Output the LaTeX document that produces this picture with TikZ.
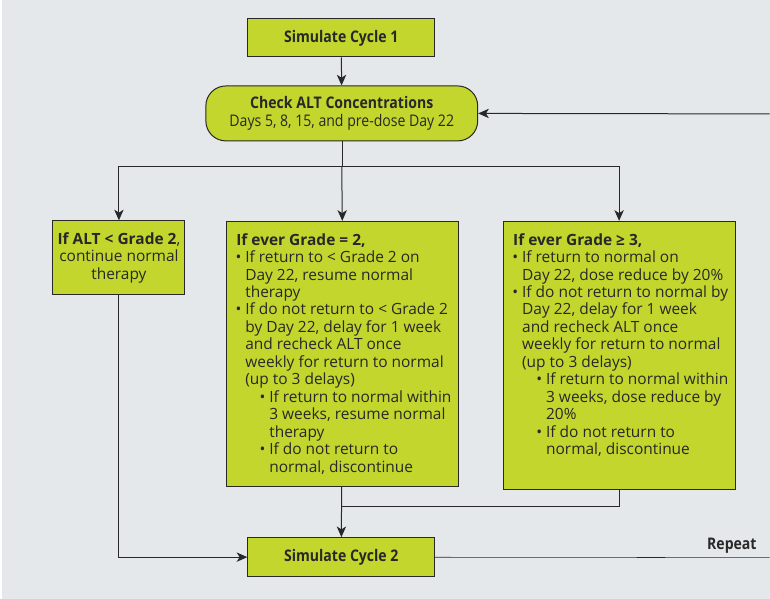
\documentclass[tikz,border=0pt]{standalone}
\usepackage{fontspec}
\setmainfont{Open Sans}
\newfontfamily\headfont[FakeStretch=0.88]{Open Sans}
\usepackage{enumitem}
\usetikzlibrary{arrows.meta,positioning}

\definecolor{altgreen}{RGB}{194,214,46}
\definecolor{panelgrey}{RGB}{229,232,235}
\definecolor{edgegrey}{RGB}{40,40,40}

\tikzset{
  greenbox/.style={draw=edgegrey, fill=altgreen, line width=0.75pt},
  cyclebox/.style={greenbox, minimum width=140.25pt, minimum height=28.5pt,
    font=\headfont\bfseries\fontsize{12}{13}\selectfont},
  checkbox/.style={greenbox, rounded corners=15pt, minimum width=204pt, minimum height=41.25pt,
    align=center, font=\headfont\fontsize{12}{13.5}\selectfont},
  rulebox/.style={greenbox, anchor=north west, inner xsep=7.5pt, inner ysep=9pt,
    font=\fontsize{11.6}{13.1}\selectfont},
  flow/.style={-{Stealth[length=8pt,width=7pt,inset=2.2pt]}, line width=0.75pt},
}

\setlist[itemize]{label=\textbullet, itemsep=0pt, topsep=0pt, parsep=0pt, partopsep=0pt, labelsep=3pt}

\begin{document}
\begin{tikzpicture}[x=0.75pt, y=-0.75pt, color=edgegrey]
    % background panel
    \fill[panelgrey] (0,0) rectangle (770,599);
    \fill[white] (0,0) rectangle (2,599);

    \node[cyclebox] (cycleA) at (341.5,38) {Simulate Cycle 1};
    \node[checkbox] (check) at (342,113.5) {\textbf{Check ALT Concentrations}\\Days 5, 8, 15, and pre-dose Day 22};

    \node[greenbox, minimum width=99pt, minimum height=55.5pt, align=center,
          font=\fontsize{11.6}{13.1}\selectfont] (lowA) at (119,258)
          {\textbf{If ALT < Grade 2},\\continue normal\\therapy};

    \node[rulebox] (lowB) at (226,221) {\makebox[159pt][l]{%
        \begin{minipage}[t][180.75pt][t]{170pt}
            \raggedright
            \textbf{If ever Grade = 2,}
            \begin{itemize}[leftmargin=6.75pt]
                \item If return to < Grade 2 on\newline Day 22, resume normal\newline therapy
                \item If do not return to < Grade 2\newline by Day 22, delay for 1 week\newline and recheck ALT once\newline weekly for return to normal\newline (up to 3 delays)
                \begin{itemize}[leftmargin=18pt]
                    \item If return to normal within\newline 3 weeks, resume normal\newline therapy
                    \item If do not return to\newline normal, discontinue
                \end{itemize}
            \end{itemize}
        \end{minipage}}
    };

    \node[rulebox] (lowC) at (503,221) {\makebox[159pt][l]{%
        \begin{minipage}[t][183pt][t]{170pt}
            \raggedright
            \textbf{If ever Grade ≥ 3,}
            \begin{itemize}[leftmargin=6.75pt]
                \item If return to normal on\newline Day 22, dose reduce by 20\%
                \item If do not return to normal by\newline Day 22, delay for 1 week\newline and recheck ALT once\newline weekly for return to normal\newline (up to 3 delays)
                \begin{itemize}[leftmargin=18pt]
                    \item If return to normal within\newline 3 weeks, dose reduce by\newline 20\%
                    \item If do not return to\newline normal, discontinue
                \end{itemize}
            \end{itemize}
        \end{minipage}}
    };

    \node[cyclebox, minimum height=29.25pt] (cycleB) at (341.5,557.5) {Simulate Cycle 2};

    \coordinate (split) at (342,167);
    \coordinate (join) at (342,507);
    \coordinate (edgeR) at (770,558);
    \coordinate (edgeT) at (770,114);

    \draw[flow] (cycleA) -- (check);
    \draw (check) -- (split);
    \draw[flow] (split) -- (lowB.north);
    \draw[flow] (split) -| (lowA.north);
    \draw[flow] (split) -| (lowC.north);
    \draw[flow] (lowB) -- (cycleB);
    \draw (lowC) |- (join);
    \draw[flow] (lowA) |- (cycleB);
    \draw (cycleB) -- (edgeR)
        node[pos=1, above left, inner xsep=9.5pt, inner ysep=3pt,
             font=\headfont\bfseries\fontsize{12}{13}\selectfont] (repeat) {Repeat};
    \draw[flow] (edgeT) -- (check.east);
\end{tikzpicture}
\end{document}
